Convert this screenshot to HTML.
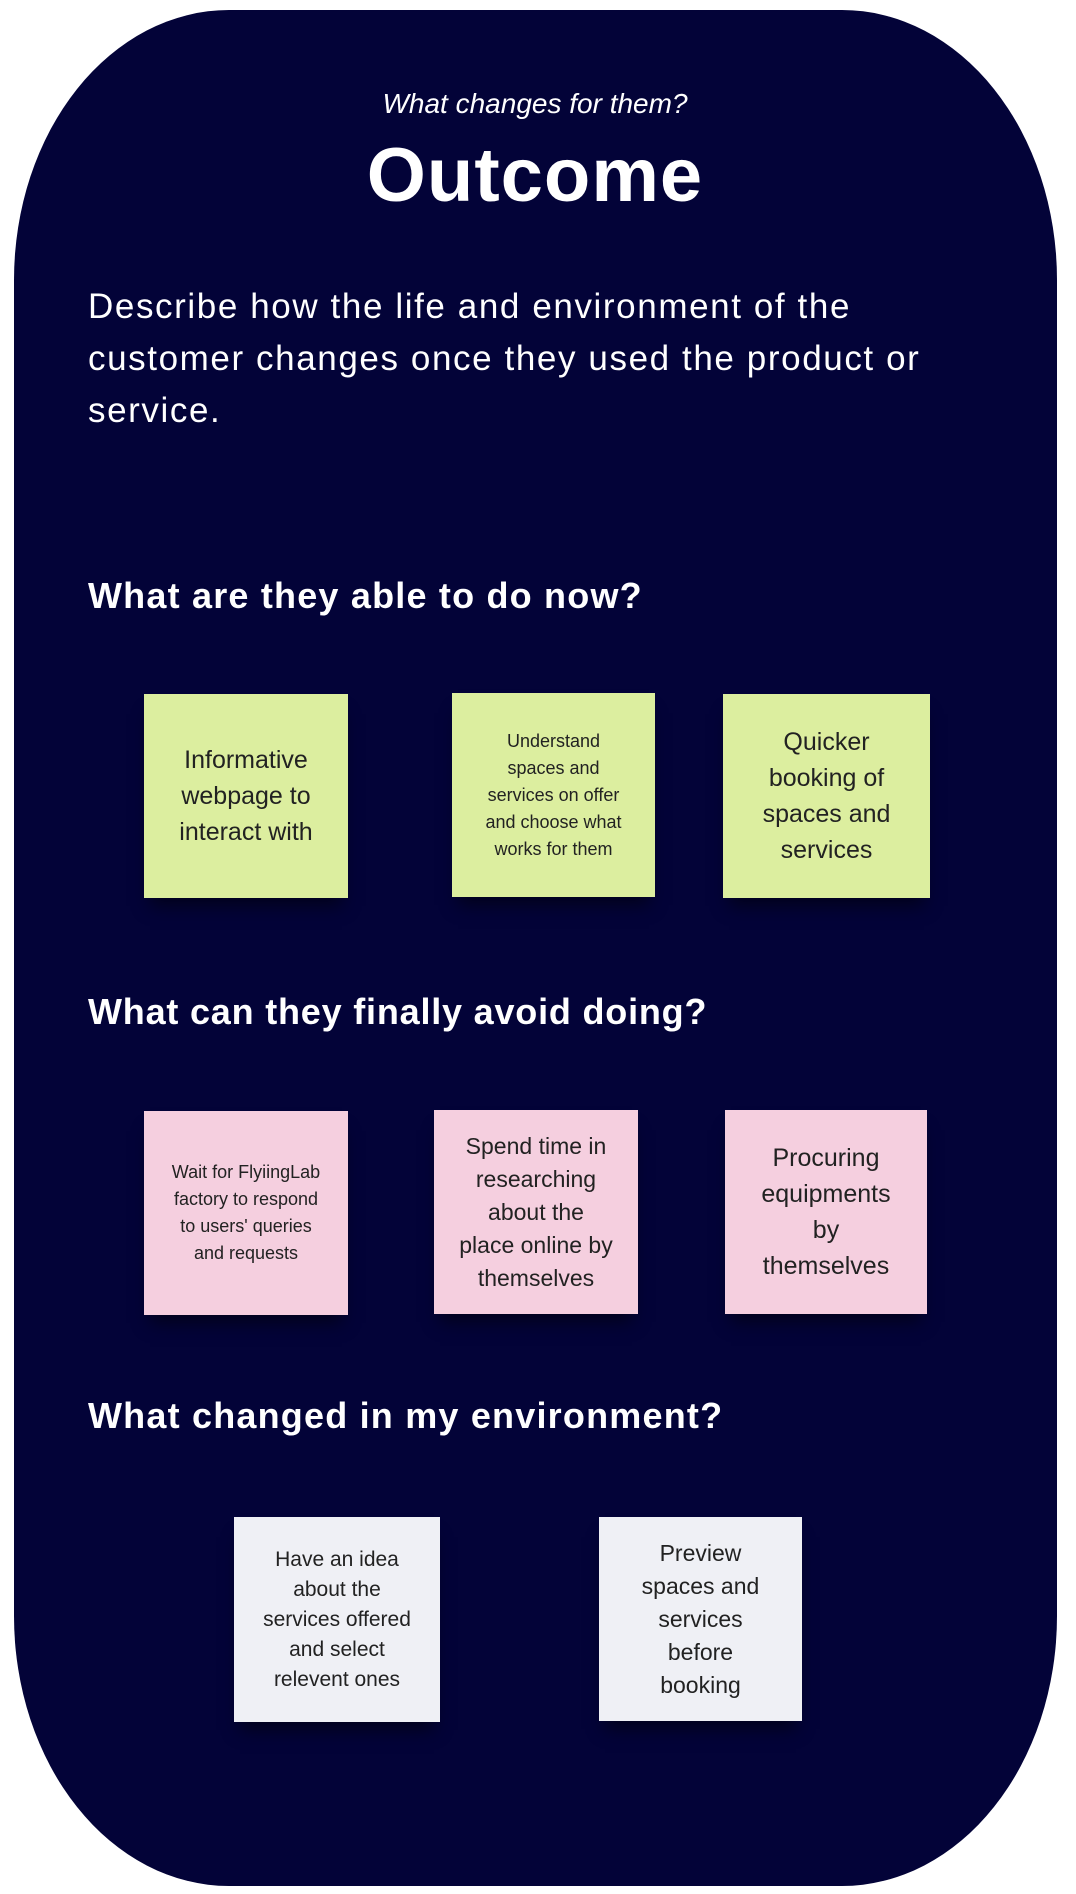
<!DOCTYPE html>
<html><head><meta charset="utf-8"><style>
body{margin:0;width:1076px;height:1894px;background:#fff;position:relative;overflow:hidden;font-family:"Liberation Sans",sans-serif}
.card{position:absolute;left:14px;top:10px;width:1043px;height:1876px;background:#030338;border-radius:215px/270px}
.t{position:absolute;color:#fff;white-space:nowrap}
.h{font-size:36px;font-weight:bold;letter-spacing:1.2px}
.s{position:absolute;display:flex;align-items:center;justify-content:center;text-align:center;color:#222;box-shadow:0 14px 16px -6px rgba(0,0,0,.5)}
.g{background:#dcee9f}.p{background:#f5cfdf}.w{background:#eff0f5}
</style></head><body>
<div class="card"></div>
<div class="t" style="left:0;width:1070px;text-align:center;top:88px;font-size:28px;font-style:italic">What changes for them?</div>
<div class="t" style="left:0;width:1070px;text-align:center;top:132px;font-size:76px;font-weight:bold;letter-spacing:1px">Outcome</div>
<div class="t" style="left:88px;top:281px;font-size:35px;line-height:52px;letter-spacing:1.6px">Describe how the life and environment of the<br>customer changes once they used the product or<br>service.</div>
<div class="t h" style="left:88px;top:575px">What are they able to do now?</div>
<div class="t h" style="left:88px;top:991px;letter-spacing:0.8px">What can they finally avoid doing?</div>
<div class="t h" style="left:88px;top:1395px">What changed in my environment?</div>

<div class="s g" style="left:144px;top:694px;width:204px;height:204px;font-size:25px;line-height:36px">Informative<br>webpage to<br>interact with</div>
<div class="s g" style="left:452px;top:693px;width:203px;height:204px;font-size:18px;line-height:27px">Understand<br>spaces and<br>services on offer<br>and choose what<br>works for them</div>
<div class="s g" style="left:723px;top:694px;width:207px;height:204px;font-size:25px;line-height:36px">Quicker<br>booking of<br>spaces and<br>services</div>

<div class="s p" style="left:144px;top:1111px;width:204px;height:204px;font-size:18px;line-height:27px">Wait for FlyiingLab<br>factory to respond<br>to users' queries<br>and requests</div>
<div class="s p" style="left:434px;top:1110px;width:204px;height:204px;font-size:23px;line-height:33px">Spend time in<br>researching<br>about the<br>place online by<br>themselves</div>
<div class="s p" style="left:725px;top:1110px;width:202px;height:204px;font-size:25px;line-height:36px">Procuring<br>equipments<br>by<br>themselves</div>

<div class="s w" style="left:234px;top:1517px;width:206px;height:205px;font-size:21px;line-height:30px">Have an idea<br>about the<br>services offered<br>and select<br>relevent ones</div>
<div class="s w" style="left:599px;top:1517px;width:203px;height:204px;font-size:23px;line-height:33px">Preview<br>spaces and<br>services<br>before<br>booking</div>
</body></html>
